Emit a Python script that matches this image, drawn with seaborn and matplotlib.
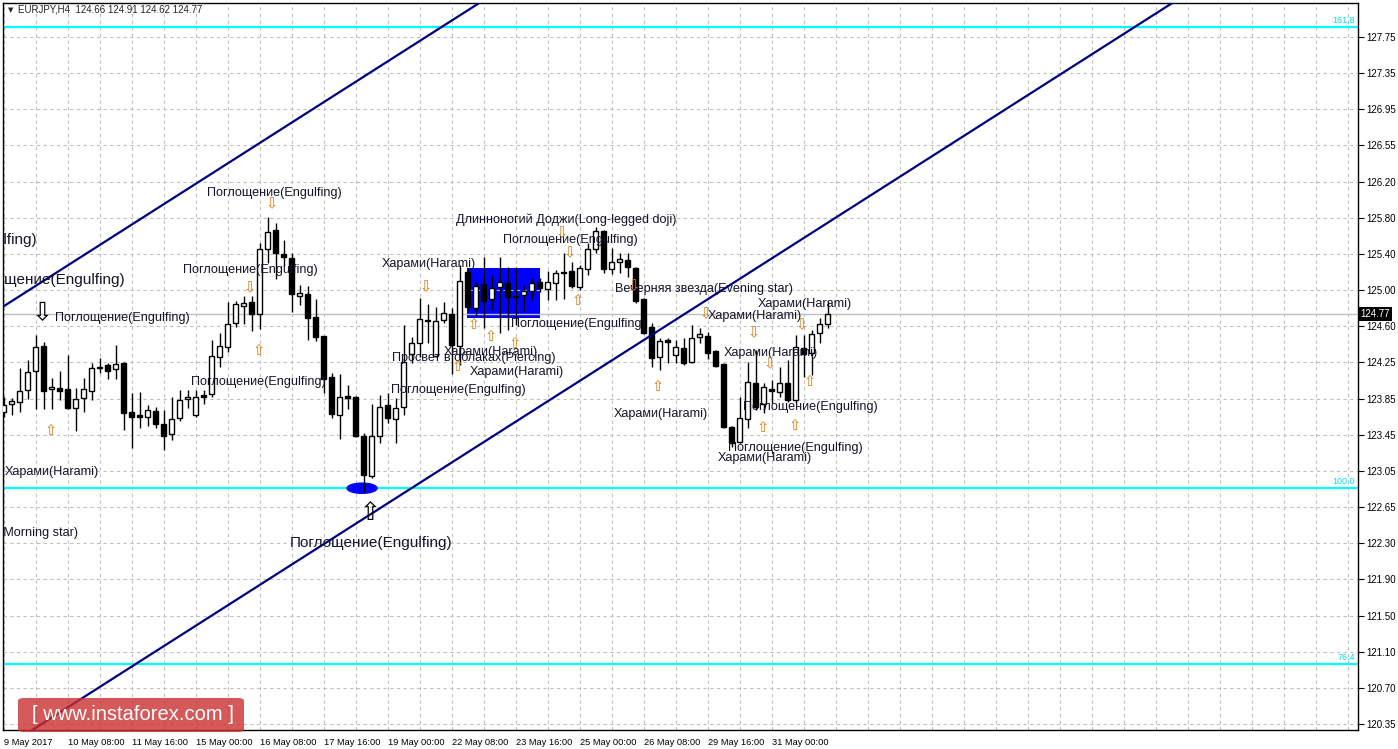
"""EURJPY H4 candlestick chart with pattern labels, channel and fib levels."""

import matplotlib

matplotlib.use("Agg")
import matplotlib.pyplot as plt
import matplotlib.transforms as mtransforms
from matplotlib.patches import Ellipse, Rectangle, FancyBboxPatch
import numpy as np
import pandas as pd
import seaborn as sns

# --- data --------------------------------------------------------------------
opens = [
    123.71, 123.80, 123.82, 123.95, 124.15, 124.42, 123.96, 123.97, 123.96, 123.75,
    123.86, 123.94, 124.20, 124.22, 124.17, 124.24, 123.71, 123.68, 123.66, 123.72,
    123.58, 123.47, 123.65, 123.85, 123.68, 123.89, 123.91, 124.30, 124.41, 124.67,
    124.85, 124.90, 124.77, 125.47, 125.67, 125.41, 125.37, 124.96, 124.98, 124.73,
    124.53, 124.09, 123.68, 123.88, 123.87, 123.45, 123.02, 123.45, 123.79, 123.64,
    123.77, 124.34, 124.45, 124.70, 124.31, 124.70, 124.77, 124.42, 125.22, 124.83,
    125.09, 124.93, 125.06, 125.10, 124.96, 124.97, 125.01, 125.11, 125.04, 125.10,
    125.22, 125.23, 125.06, 125.25, 125.47, 125.66, 125.25, 125.33, 125.35, 125.26,
    124.93, 124.63, 124.30, 124.49, 124.33, 124.40, 124.25, 124.52, 124.53, 124.37,
    124.23, 123.55, 123.39, 123.64, 124.02, 123.80, 123.96, 123.93, 124.02, 123.84,
    124.40, 124.35, 124.56, 124.66,
]
highs = [
    123.87, 123.86, 124.18, 124.27, 124.54, 124.46, 124.08, 124.15, 124.33, 123.97,
    124.08, 124.24, 124.29, 124.24, 124.43, 124.25, 123.92, 123.93, 123.79, 123.77,
    123.73, 123.87, 123.95, 123.95, 123.95, 123.95, 124.49, 124.56, 124.90, 124.91,
    124.96, 124.96, 125.53, 125.81, 125.75, 125.56, 125.42, 125.08, 125.07, 124.93,
    124.53, 124.13, 124.12, 124.00, 123.88, 123.49, 123.80, 123.89, 123.92, 123.86,
    124.65, 124.52, 124.94, 124.87, 124.84, 124.90, 124.83, 125.29, 125.26, 125.11,
    125.38, 125.19, 125.38, 125.27, 125.27, 125.08, 125.15, 125.15, 125.23, 125.24,
    125.42, 125.33, 125.29, 125.53, 125.70, 125.67, 125.48, 125.42, 125.42, 125.27,
    124.94, 124.67, 124.51, 124.51, 124.49, 124.51, 124.65, 124.62, 124.57, 124.38,
    124.24, 123.56, 123.87, 124.25, 124.38, 124.02, 124.06, 124.20, 124.27, 124.54,
    124.54, 124.59, 124.72, 124.91,
]
lows = [
    123.66, 123.68, 123.71, 123.85, 123.74, 123.74, 123.74, 123.84, 123.74, 123.51,
    123.71, 123.84, 124.13, 124.07, 124.07, 123.52, 123.32, 123.54, 123.56, 123.54,
    123.30, 123.41, 123.61, 123.75, 123.66, 123.80, 123.87, 124.20, 124.36, 124.63,
    124.66, 124.58, 124.61, 125.32, 125.14, 125.28, 124.79, 124.86, 124.49, 124.48,
    123.92, 123.65, 123.42, 123.74, 123.44, 122.85, 123.00, 123.38, 123.59, 123.38,
    123.68, 124.24, 124.30, 124.45, 124.30, 124.67, 124.12, 124.22, 124.81, 124.76,
    124.62, 124.81, 124.56, 124.59, 124.65, 124.80, 124.92, 125.00, 124.92, 124.92,
    124.93, 125.05, 125.02, 125.19, 125.42, 125.21, 125.20, 125.21, 125.17, 124.89,
    124.55, 124.20, 124.16, 124.24, 124.24, 124.22, 124.24, 124.45, 124.28, 124.20,
    123.54, 123.33, 123.38, 123.54, 123.73, 123.70, 123.81, 123.87, 123.82, 123.81,
    124.09, 124.11, 124.45, 124.62,
]
closes = [
    123.79, 123.83, 123.94, 124.14, 124.41, 123.94, 123.98, 123.94, 123.75, 123.85,
    123.96, 124.18, 124.19, 124.15, 124.23, 123.70, 123.66, 123.66, 123.73, 123.58,
    123.45, 123.64, 123.84, 123.87, 123.87, 123.87, 124.31, 124.42, 124.66, 124.87,
    124.88, 124.77, 125.47, 125.65, 125.42, 125.38, 124.98, 124.99, 124.72, 124.52,
    124.07, 123.69, 123.87, 123.86, 123.45, 123.03, 123.45, 123.77, 123.65, 123.75,
    124.25, 124.45, 124.71, 124.69, 124.69, 124.78, 124.43, 125.12, 124.84, 125.07,
    124.91, 125.05, 125.11, 124.95, 124.95, 125.01, 125.10, 125.05, 125.11, 125.21,
    125.21, 125.07, 125.26, 125.47, 125.66, 125.25, 125.33, 125.36, 125.27, 124.91,
    124.56, 124.29, 124.48, 124.47, 124.41, 124.24, 124.51, 124.55, 124.35, 124.21,
    123.55, 123.38, 123.65, 124.03, 123.77, 123.98, 123.94, 124.02, 123.84, 124.41,
    124.34, 124.55, 124.66, 124.77,
]

date_labels = [
    "9 May 2017", "10 May 08:00", "11 May 16:00", "15 May 00:00", "16 May 08:00",
    "17 May 16:00", "19 May 00:00", "22 May 08:00", "23 May 16:00", "25 May 00:00",
    "26 May 08:00", "29 May 16:00", "31 May 00:00",
]
price_labels = [
    "120.35", "120.70", "121.10", "121.50", "121.90", "122.30", "122.65", "123.05",
    "123.45", "123.85", "124.25", "124.60", "125.00", "125.40", "125.80", "126.20",
    "126.55", "126.95", "127.35", "127.75",
]

fib_levels = [127.86, 122.895, 121.0]
fib_names = ["161.8", "100.0", "76.4"]

channel_bars = [0, 170]
channel_lower = [120.09, 129.43]
channel_upper = [124.85, 134.19]

zone_bars = [57.9, 67.0]
zone_prices = [124.72, 125.26]
low_mark = [44.8, 122.89]

symbol_title = "EURJPY,H4  124.66 124.91 124.62 124.77"
last_price = 124.77

small_labels = [
    ("Поглощение(Engulfing)", 25.4, 126.07),
    ("Поглощение(Engulfing)", 6.4, 124.72),
    ("Поглощение(Engulfing)", 22.4, 125.24),
    ("Поглощение(Engulfing)", 23.4, 124.03),
    ("Харами(Harami)", 0.16, 123.065),
    ("Харами(Harami)", 47.2, 125.31),
    ("Длинноногий Доджи(Long-legged doji)", 56.5, 125.78),
    ("Поглощение(Engulfing)", 62.4, 125.56),
    ("Поглощение(Engulfing)", 63.4, 124.66),
    ("Харами(Harami)", 55.0, 124.36),
    ("Просвет в облаках(Piercing)", 48.5, 124.30),
    ("Харами(Harami)", 58.2, 124.14),
    ("Поглощение(Engulfing)", 48.4, 123.95),
    ("Вечерняя звезда(Evening star)", 76.4, 125.04),
    ("Харами(Harami)", 76.2, 123.69),
    ("Харами(Harami)", 88.0, 124.75),
    ("Харами(Harami)", 90.0, 124.35),
    ("Харами(Harami)", 94.2, 124.87),
    ("Поглощение(Engulfing)", 92.4, 123.77),
    ("Поглощение(Engulfing)", 90.5, 123.32),
    ("Харами(Harami)", 89.2, 123.22),
]
cut_labels = [
    ("Утренняя звезда(Morning star)", 9.3, 122.41, 9.1),
    ("Поглощение(Engulfing)", 4.2, 125.56, 11),
    ("Поглощение(Engulfing)", 15.2, 125.13, 11),
]
big_label = ("Поглощение(Engulfing)", 35.8, 122.30)

arrows_down = [(33.5, 125.95), (30.8, 125.05), (52.7, 125.06), (69.7, 125.64),
               (70.8, 125.43), (78.7, 125.07), (87.7, 124.77), (93.7, 124.56),
               (95.8, 124.23), (99.7, 124.65)]
arrows_up = [(31.9, 124.37), (5.9, 123.51), (58.8, 124.65), (60.9, 124.52),
             (63.9, 124.45), (56.8, 124.20), (71.8, 124.91), (81.8, 123.99),
             (100.8, 124.04), (94.9, 123.54), (98.9, 123.57)]
big_arrows = [("⇩", 4.8, 124.78), ("⇧", 45.8, 122.62)]

# --- figure -------------------------------------------------------------------
sns.set_style("white")
plt.rcParams["font.family"] = ["Liberation Sans", "DejaVu Sans"]

W, H = 1398, 749
fig = plt.figure(figsize=(W / 100, H / 100), dpi=100)
ax = fig.add_axes([3 / W, 19 / H, 1355 / W, 727 / H])
ax.set_xlim(-0.09, 169.3)
ax.set_ylim(120.286, 128.116)
right_side = mtransforms.blended_transform_factory(ax.transAxes, ax.transData)

candles = pd.DataFrame({"open": opens, "high": highs, "low": lows, "close": closes})
candles["bar"] = np.arange(len(candles))
candles["up"] = candles["close"] >= candles["open"]

grid_kw = dict(color="#c0c0c0", lw=0.8, ls=(0, (3, 3)), zorder=1)
yticks = np.linspace(120.35, 127.75, len(price_labels))
for v in np.arange(0, 170, 4):
    ax.axvline(v, **grid_kw)
for t in yticks:
    ax.axhline(t, **grid_kw)

ax.add_patch(Rectangle((zone_bars[0], zone_prices[0]), zone_bars[1] - zone_bars[0],
                       zone_prices[1] - zone_prices[0], color="#0000ff", lw=0, zorder=0.5))
ax.axhline(last_price, color="#c0c0c0", lw=1, zorder=1.5)

for level, name in zip(fib_levels, fib_names):
    ax.axhline(level, color="#00ffff", lw=1.6, zorder=2)
    ax.text(0.998, level + 0.02, name, transform=right_side,
            ha="right", va="bottom", color="#00e5e5", fontsize=6.5)

ax.add_patch(Ellipse((low_mark[0], low_mark[1]), 3.75, 0.11, color="#0000ff", zorder=2.5))

# candles
ax.vlines(candles["bar"], candles["low"], candles["high"], color="black", lw=1, zorder=3)
body_lo = candles[["open", "close"]].min(axis=1)
body_h = (candles["close"] - candles["open"]).abs().clip(lower=0.004)
ax.bar(candles["bar"], body_h, bottom=body_lo, width=0.6,
       color=np.where(candles["up"], "white", "black"), edgecolor="black", lw=1, zorder=4)

# channel
sns.lineplot(x=channel_bars, y=channel_lower, ax=ax, color="#000080", lw=1.6, zorder=4.5)
sns.lineplot(x=channel_bars, y=channel_upper, ax=ax, color="#000080", lw=1.6, zorder=4.5)

text_color = "#14142b"
for txt, x, y in small_labels:
    ax.text(x, y, txt, ha="left", va="center", fontsize=9.1, color=text_color, clip_on=True, zorder=6)
for txt, x, y, fs in cut_labels:
    ax.text(x, y, txt, ha="right", va="center", fontsize=fs, color=text_color, clip_on=True, zorder=6)
ax.text(big_label[1], big_label[2], big_label[0], ha="left", va="center", fontsize=11,
        color=text_color, clip_on=True, zorder=6)

arrow_font = ["DejaVu Sans"]
for x, y in arrows_down:
    ax.text(x, y, "⇩", ha="center", va="center", fontsize=10.5, color="#e07800",
            family=arrow_font, zorder=6)
for x, y in arrows_up:
    ax.text(x, y, "⇧", ha="center", va="center", fontsize=10.5, color="#e07800",
            family=arrow_font, zorder=6)
for sym, x, y in big_arrows:
    ax.text(x, y, sym, ha="center", va="center", fontsize=18, color="black",
            family=arrow_font, zorder=6)

# title
ax.text(0.0037, 0.9904, "▼", transform=ax.transAxes, ha="left", va="center", fontsize=5,
        family=arrow_font)
ax.text(0.011, 0.9904, symbol_title, transform=ax.transAxes, ha="left", va="center", fontsize=7)

# axes
ax.yaxis.tick_right()
ax.set_yticks(yticks)
ax.set_yticklabels(price_labels)
ax.set_xticks(np.arange(0, len(opens), 8)[: len(date_labels)])
ax.set_xticklabels(date_labels)
for lab in ax.get_xticklabels():
    lab.set_horizontalalignment("left")
ax.tick_params(axis="y", length=4, width=0.8, pad=2, labelsize=7, colors="black")
ax.tick_params(axis="x", length=4, width=0.8, pad=1.5, labelsize=6.7, colors="black")
for s in ax.spines.values():
    s.set_color("black")
    s.set_linewidth(1)

ax.text(1.002, last_price, "124.77", transform=right_side,
        ha="left", va="center", fontsize=7, color="white", clip_on=False,
        bbox=dict(facecolor="black", edgecolor="none", pad=1.5))

# watermark
fig.patches.append(FancyBboxPatch((18 / W, 17 / H), 226 / W, 34 / H,
                                  boxstyle="round,pad=0,rounding_size=0.004",
                                  transform=fig.transFigure, facecolor="#cc2f2f",
                                  alpha=0.8, edgecolor="none", zorder=10))
fig.text(133 / W, 34 / H, "[ www.instaforex.com ]", ha="center", va="center",
         color="white", fontsize=14.5, zorder=11)

fig.savefig("out.png", dpi=100)
